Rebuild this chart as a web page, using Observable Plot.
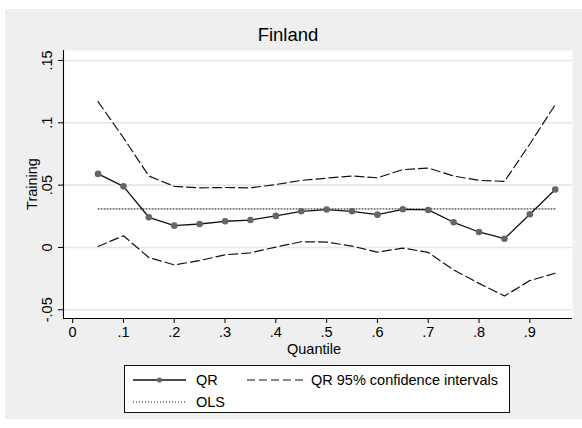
<!DOCTYPE html>
<html>
<head>
<meta charset="utf-8">
<script src="https://cdn.jsdelivr.net/npm/d3@7"></script>
<script src="https://cdn.jsdelivr.net/npm/@observablehq/plot@0.6"></script>
<style>
  html, body { margin: 0; padding: 0; background: #ffffff; }
  #wrap { position: relative; width: 582px; height: 428px; overflow: hidden; font-family: "Liberation Sans", Arial, sans-serif; color: #000; }
  #bg { position: absolute; left: 5px; top: 9px; width: 577px; height: 410px; background: #efefef; }
  #chart { position: absolute; left: 0; top: 0; }
  .txt { position: absolute; white-space: nowrap; font-size: 14.5px; line-height: 1; }
  #title { position: absolute; left: 288px; top: 26px; transform: translateX(-50%); font-size: 18.5px; white-space: nowrap; line-height: 1; }
  #ylab { left: 32px; top: 183.5px; transform: translate(-50%, -50%) rotate(-90deg); }
  #xlab { left: 314px; top: 342px; transform: translateX(-50%); }
  #legend { position: absolute; left: 124px; top: 365px; width: 384px; height: 46px; background: #fff; border: 1.3px solid #111; }
</style>
</head>
<body>
<div id="wrap">
  <div id="bg"></div>
  <div id="chart"></div>
  <div id="title">Finland</div>
  <div id="ylab" class="txt">Training</div>
  <div id="xlab" class="txt">Quantile</div>
  <div id="legend"></div>
</div>
<script>
// ---- data ----
const quantiles = [0.05, 0.10, 0.15, 0.20, 0.25, 0.30, 0.35, 0.40, 0.45, 0.50, 0.55, 0.60, 0.65, 0.70, 0.75, 0.80, 0.85, 0.90, 0.95];
const qrValues  = [0.059, 0.049, 0.0242, 0.0175, 0.0188, 0.021, 0.022, 0.0253, 0.029, 0.0304, 0.029, 0.0263, 0.0306, 0.0301, 0.0202, 0.0124, 0.0070, 0.0266, 0.0465];
const ciUpper   = [0.117, 0.088, 0.0573, 0.049, 0.0478, 0.0481, 0.0478, 0.0505, 0.0538, 0.0556, 0.0573, 0.0559, 0.0624, 0.0637, 0.0573, 0.0538, 0.0530, 0.083, 0.1145];
const ciLower   = [0.0008, 0.0094, -0.0081, -0.014, -0.0105, -0.0059, -0.0043, 0.0003, 0.0046, 0.0043, 0.0011, -0.0038, -0.0005, -0.004, -0.018, -0.0288, -0.039, -0.0266, -0.0207];
const olsValue  = 0.0309;
const olsRange  = [0.05, 0.95];

const xTicks      = [0, 0.1, 0.2, 0.3, 0.4, 0.5, 0.6, 0.7, 0.8, 0.9];
const xTickLabels = ["0", ".1", ".2", ".3", ".4", ".5", ".6", ".7", ".8", ".9"];
const yTicks      = [-0.05, 0, 0.05, 0.1, 0.15];
const yTickLabels = ["-.05", "0", ".05", ".1", ".15"];

const legendItems = ["QR", "QR 95% confidence intervals", "OLS"];

// ---- tables built from the arrays ----
const qrData = quantiles.map((q, i) => ({q, v: qrValues[i]}));
const upData = quantiles.map((q, i) => ({q, v: ciUpper[i]}));
const loData = quantiles.map((q, i) => ({q, v: ciLower[i]}));
const olsData = olsRange.map(q => ({q, v: olsValue}));

const xDomain = [-0.018, 0.984];
const yDomain = [-0.057, 0.158];

const fontFamily = '"Liberation Sans", Arial, sans-serif';

const plot = Plot.plot({
  width: 582,
  height: 360,
  marginLeft: 63,
  marginRight: 10,
  marginTop: 50,
  marginBottom: 42,
  style: {background: "transparent", fontFamily, fontSize: "14.5px", color: "#000"},
  x: {domain: xDomain},
  y: {domain: yDomain},
  marks: [
    Plot.frame({fill: "#ffffff", stroke: null}),
    Plot.gridY(yTicks, {stroke: "#e6e6e6", strokeOpacity: 1, strokeWidth: 1.6}),
    Plot.ruleX([xDomain[0]], {stroke: "#000", strokeWidth: 1.1}),
    Plot.ruleY([yDomain[0]], {stroke: "#000", strokeWidth: 1.1}),
    Plot.axisY(yTicks, {
      tickSize: 5, tickPadding: 11, tickRotate: -90, textAnchor: "middle", lineAnchor: "middle",
      tickFormat: (d) => yTickLabels[yTicks.indexOf(d)], label: null, fontSize: 14.5, stroke: "#000"
    }),
    Plot.axisX(xTicks, {
      tickSize: 5, tickPadding: 3,
      tickFormat: (d) => xTickLabels[xTicks.indexOf(d)], label: null, fontSize: 14.5, stroke: "#000"
    }),
    Plot.line(olsData, {x: "q", y: "v", stroke: "#111", strokeWidth: 1, strokeDasharray: "1,2"}),
    Plot.line(upData, {x: "q", y: "v", stroke: "#111", strokeWidth: 1.2, strokeDasharray: "9,4"}),
    Plot.line(loData, {x: "q", y: "v", stroke: "#111", strokeWidth: 1.2, strokeDasharray: "9,4"}),
    Plot.line(qrData, {x: "q", y: "v", stroke: "#111", strokeWidth: 1.3}),
    Plot.dot(qrData, {x: "q", y: "v", r: 3.3, fill: "#666", stroke: null})
  ]
});
document.getElementById("chart").appendChild(plot);

// ---- legend ----
const ns = "http://www.w3.org/2000/svg";
const lg = document.createElementNS(ns, "svg");
lg.setAttribute("width", 384);
lg.setAttribute("height", 46);
lg.style.display = "block";
lg.innerHTML = `
  <line x1="8" y1="14" x2="61" y2="14" stroke="#111" stroke-width="1.3"/>
  <circle cx="34.5" cy="14" r="2.6" fill="#666"/>
  <text x="71" y="19" font-size="14.5" font-family='${fontFamily}'>${legendItems[0]}</text>
  <line x1="122" y1="14" x2="179" y2="14" stroke="#111" stroke-width="1.2" stroke-dasharray="8,4"/>
  <text x="186" y="19" font-size="14.5" font-family='${fontFamily}'>${legendItems[1]}</text>
  <line x1="8" y1="36" x2="61" y2="36" stroke="#111" stroke-width="1" stroke-dasharray="1,2"/>
  <text x="71" y="41" font-size="14.5" font-family='${fontFamily}'>${legendItems[2]}</text>
`;
document.getElementById("legend").appendChild(lg);
</script>
</body>
</html>
